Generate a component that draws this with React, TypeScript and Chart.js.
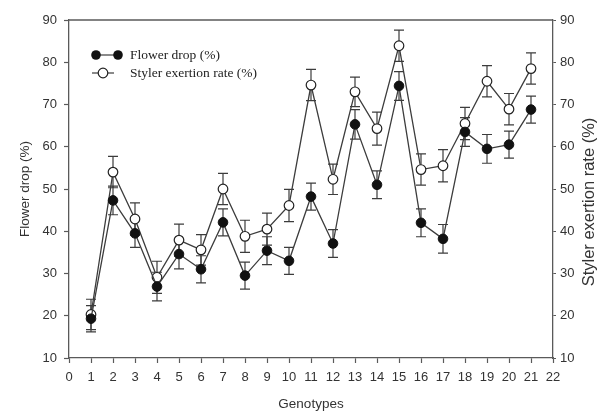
import React, { useEffect, useRef } from "react";
import { Chart, registerables } from "chart.js";

Chart.register(...registerables);

const genotypes = [1, 2, 3, 4, 5, 6, 7, 8, 9, 10, 11, 12, 13, 14, 15, 16, 17, 18, 19, 20, 21];
const flowerDrop = [19.3, 47.3, 39.5, 26.9, 34.6, 31.0, 42.1, 29.5, 35.4, 33.0, 48.2, 37.1, 65.3, 51.0, 74.4, 42.0, 38.2, 63.5, 59.5, 60.5, 68.8];
const flowerDropErr = [3.1, 3.4, 3.3, 3.4, 3.5, 3.2, 3.2, 3.2, 3.3, 3.2, 3.2, 3.3, 3.5, 3.3, 3.4, 3.3, 3.4, 3.4, 3.4, 3.2, 3.2];
const stylerRate = [20.3, 54.0, 42.9, 29.1, 37.9, 35.6, 50.0, 38.8, 40.5, 46.1, 74.6, 52.3, 73.0, 64.3, 83.9, 54.6, 55.5, 65.5, 75.5, 68.9, 78.5];
const stylerErr = [3.6, 3.7, 3.8, 3.8, 3.8, 3.6, 3.7, 3.8, 3.8, 3.8, 3.7, 3.6, 3.5, 3.9, 3.7, 3.7, 3.8, 3.8, 3.7, 3.7, 3.7];
const yTickValues = [10, 20, 30, 40, 50, 60, 70, 80, 90];
const xTickValues = [0, 1, 2, 3, 4, 5, 6, 7, 8, 9, 10, 11, 12, 13, 14, 15, 16, 17, 18, 19, 20, 21, 22];

const seriesNames = ["Flower drop (%)", "Styler exertion rate (%)"];
const axisTitles = { x: "Genotypes", y: "Flower drop (%)", y2: "Styler exertion rate (%)" };

const LINE = "#3c3c3c";
const AXIS = "#5a5a5a";
const TEXT = "#333333";
const SANS = "'Liberation Sans', Arial, sans-serif";
const SERIF = "'Liberation Serif', 'Times New Roman', serif";

const errorSets = [flowerDropErr, stylerErr];

const errorBarPlugin = {
  id: "errorBars",
  beforeDatasetsDraw(chart: any) {
    const ctx = chart.ctx;
    const xs = chart.scales.x;
    ctx.save();
    ctx.strokeStyle = LINE;
    ctx.lineWidth = 1.2;
    chart.data.datasets.forEach((ds: any, i: number) => {
      const ys = chart.scales[ds.yAxisID];
      const errs = errorSets[i];
      ds.data.forEach((p: any, j: number) => {
        const x = xs.getPixelForValue(p.x);
        const yt = ys.getPixelForValue(p.y + errs[j]);
        const yb = ys.getPixelForValue(p.y - errs[j]);
        ctx.beginPath();
        ctx.moveTo(x, yt);
        ctx.lineTo(x, yb);
        ctx.moveTo(x - 5, yt);
        ctx.lineTo(x + 5, yt);
        ctx.moveTo(x - 5, yb);
        ctx.lineTo(x + 5, yb);
        ctx.stroke();
      });
    });
    ctx.restore();
  },
};

const framePlugin = {
  id: "frameAndLegend",
  afterDraw(chart: any) {
    const ctx = chart.ctx;
    const a = chart.chartArea;
    ctx.save();
    ctx.strokeStyle = AXIS;
    ctx.lineWidth = 1.3;
    ctx.beginPath();
    ctx.moveTo(a.left, a.top);
    ctx.lineTo(a.right, a.top);
    ctx.stroke();

    // right axis title, reading bottom-to-top
    ctx.save();
    ctx.translate(589, (a.top + a.bottom) / 2 + 13);
    ctx.rotate(-Math.PI / 2);
    ctx.fillStyle = TEXT;
    ctx.font = `16.5px ${SANS}`;
    ctx.textAlign = "center";
    ctx.textBaseline = "middle";
    ctx.fillText(axisTitles.y2, 0, 0);
    ctx.restore();

    // legend
    const y1 = a.top + 35;
    const y2 = a.top + 53;
    ctx.strokeStyle = LINE;
    ctx.lineWidth = 1.2;
    ctx.beginPath();
    ctx.moveTo(a.left + 27, y1);
    ctx.lineTo(a.left + 49, y1);
    ctx.stroke();
    ctx.fillStyle = "#111";
    [a.left + 27, a.left + 49].forEach((cx) => {
      ctx.beginPath();
      ctx.arc(cx, y1, 4.8, 0, Math.PI * 2);
      ctx.fill();
    });
    ctx.beginPath();
    ctx.moveTo(a.left + 23, y2);
    ctx.lineTo(a.left + 45, y2);
    ctx.stroke();
    ctx.beginPath();
    ctx.arc(a.left + 34, y2, 4.8, 0, Math.PI * 2);
    ctx.fillStyle = "#fff";
    ctx.fill();
    ctx.strokeStyle = "#222";
    ctx.stroke();

    ctx.fillStyle = "#222";
    ctx.font = `13.5px ${SERIF}`;
    ctx.textBaseline = "middle";
    ctx.textAlign = "left";
    ctx.fillText(seriesNames[0], a.left + 61, y1);
    ctx.fillText(seriesNames[1], a.left + 61, y2);
    ctx.restore();
  },
};

export default function App() {
  const ref = useRef<HTMLCanvasElement | null>(null);

  useEffect(() => {
    if (!ref.current) return;
    const tickFont = { family: SANS, size: 13 };
    const titleFont = { family: SANS, size: 13.5 };
    const chart = new Chart(ref.current, {
      type: "line",
      data: {
        datasets: [
          {
            label: seriesNames[0],
            data: genotypes.map((g, i) => ({ x: g, y: flowerDrop[i] })),
            yAxisID: "y",
            borderColor: LINE,
            borderWidth: 1.3,
            pointRadius: 4.8,
            pointBackgroundColor: "#111",
            pointBorderColor: "#111",
            pointBorderWidth: 1,
            tension: 0,
            fill: false,
          },
          {
            label: seriesNames[1],
            data: genotypes.map((g, i) => ({ x: g, y: stylerRate[i] })),
            yAxisID: "y2",
            borderColor: LINE,
            borderWidth: 1.3,
            pointRadius: 4.8,
            pointBackgroundColor: "#ffffff",
            pointBorderColor: "#222",
            pointBorderWidth: 1.2,
            tension: 0,
            fill: false,
          },
        ],
      },
      options: {
        responsive: false,
        animation: false,
        events: [],
        layout: { padding: { top: 20, left: 0, right: 0, bottom: 0 } },
        plugins: { legend: { display: false }, tooltip: { enabled: false } },
        scales: {
          x: {
            type: "linear",
            min: 0,
            max: 22,
            afterFit: (s: any) => {
              s.height = 54;
            },
            afterBuildTicks: (s: any) => {
              s.ticks = xTickValues.map((v) => ({ value: v }));
            },
            ticks: { autoSkip: false, maxRotation: 0, padding: 7, color: TEXT, font: tickFont },
            grid: { drawOnChartArea: false, drawTicks: true, tickLength: 5, tickColor: AXIS, tickWidth: 1.2 },
            border: { display: true, color: AXIS, width: 1.3 },
            title: { display: true, text: axisTitles.x, color: TEXT, font: titleFont, padding: { top: 0, bottom: 0 } },
          },
          y: {
            type: "linear",
            position: "left",
            min: 10,
            max: 90,
            afterFit: (s: any) => {
              s.width = 69;
            },
            afterBuildTicks: (s: any) => {
              s.ticks = yTickValues.map((v) => ({ value: v }));
            },
            ticks: { padding: 7, color: TEXT, font: tickFont },
            grid: { drawOnChartArea: false, drawTicks: true, tickLength: 5, tickColor: AXIS, tickWidth: 1.2 },
            border: { display: true, color: AXIS, width: 1.3 },
            title: { display: true, text: axisTitles.y, color: TEXT, font: titleFont, padding: { top: 17, bottom: 0 } },
          },
          y2: {
            type: "linear",
            position: "right",
            min: 10,
            max: 90,
            afterFit: (s: any) => {
              s.width = 49;
            },
            afterBuildTicks: (s: any) => {
              s.ticks = yTickValues.map((v) => ({ value: v }));
            },
            ticks: { padding: 4, color: TEXT, font: tickFont },
            grid: { drawOnChartArea: false, drawTicks: true, tickLength: 3, tickColor: AXIS, tickWidth: 1 },
            border: { display: true, color: AXIS, width: 1.3 },
            title: { display: false },
          },
        },
      } as any,
      plugins: [errorBarPlugin, framePlugin],
    });
    return () => chart.destroy();
  }, []);

  return (
    <div style={{ position: "absolute", left: 0, top: 0, width: 602, height: 412, background: "#fff" }}>
      <canvas ref={ref} width={602} height={412} style={{ display: "block" }} />
    </div>
  );
}
